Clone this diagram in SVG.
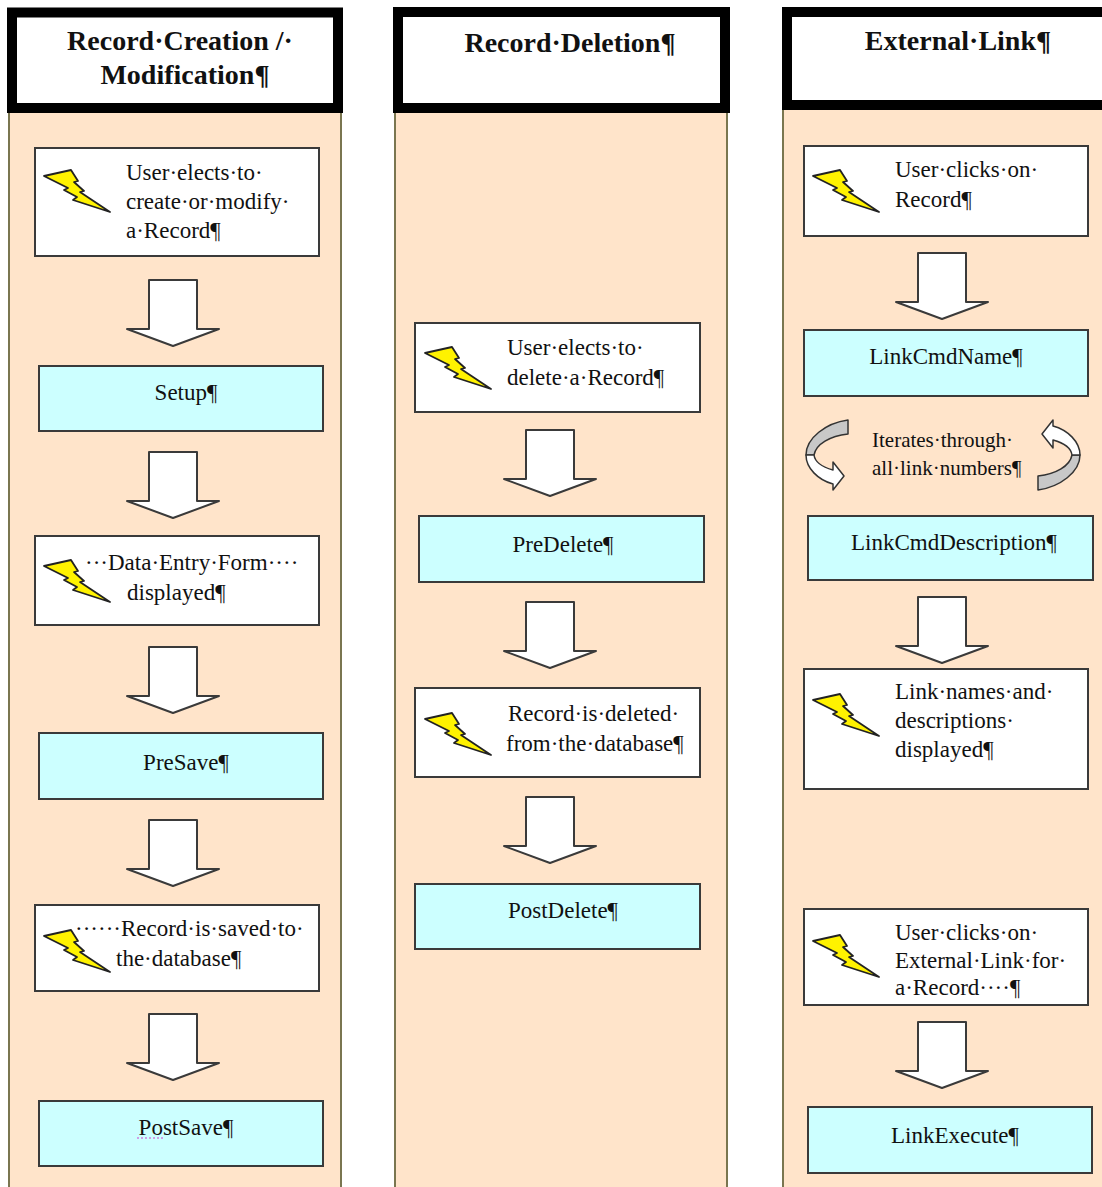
<svg xmlns="http://www.w3.org/2000/svg" xmlns:xlink="http://www.w3.org/1999/xlink" width="1102" height="1187" viewBox="0 0 1102 1187">
<style>
.col{fill:#FFE4CA;stroke:#7A7650;stroke-width:2}
.hdr{fill:#FFFFFF;stroke:#000000;stroke-width:10}
.box{fill:#FFFFFF;stroke:#3A3A3A;stroke-width:2}
.cyan{fill:#CCFFFF;stroke:#3A3A3A;stroke-width:2}
.ht{font-family:"Liberation Serif","Times New Roman",serif;font-size:28px;font-weight:bold;fill:#111;text-anchor:middle}
.t{font-family:"Liberation Serif","Times New Roman",serif;font-size:23px;fill:#111}
.c{text-anchor:middle}
.it{font-family:"Liberation Serif","Times New Roman",serif;font-size:21px;fill:#111}
.arr{fill:#FFFFFF;stroke:#3A3A3A;stroke-width:2;stroke-linejoin:round}
.bolt{fill:#FFF200;stroke:#222;stroke-width:1.8;stroke-linejoin:round}
.curg{fill:#C8C8C8;stroke:#333;stroke-width:1.5;stroke-linejoin:round}
.curw{fill:#FFFFFF;stroke:#333;stroke-width:1.5;stroke-linejoin:round}
</style>
<defs>
<path id="blk" class="arr" d="M-24,0 L24,0 L24,49 L46,49 L0,66 L-46,49 L-24,49 Z"/>
<polygon id="bolt" class="bolt" points="4,16 31,10 38,21 34,22 44,31 40,32 70,52 33,40 37,37 24,30 28,28"/>
<g id="curl">
<path class="curg" d="M848,420 L848,434 C830,436 816,444 814,455 L806,455 C806,438 826,423 848,420 Z"/>
<path class="curw" d="M806,455 C806,468 818,480 833,484 L833,490 L844,476 L833,462 L833,470 C822,467 815,462 814,455 Z"/>
</g>
</defs>
<rect width="1102" height="1187" fill="#FFFFFF"/>

<g id="column1">
<rect class="col" x="9" y="108" width="332" height="1090"/>
<rect class="hdr" x="12" y="12.5" width="326" height="95.5"/>
<text class="ht" x="180" y="50">Record·Creation /·</text>
<text class="ht" x="185" y="84">Modification¶</text>
</g>
<g id="column2">
<rect class="col" x="395" y="108" width="332" height="1090"/>
<rect class="hdr" x="398" y="12" width="327" height="96"/>
<text class="ht" x="570" y="52">Record·Deletion¶</text>
</g>
<g id="column3">
<rect class="col" x="783" y="106" width="340" height="1092"/>
<rect class="hdr" x="787" y="12" width="330" height="93"/>
<text class="ht" x="958" y="50">External·Link¶</text>
</g>

<g id="connectors">
<use xlink:href="#blk" x="173" y="280"/>
<use xlink:href="#blk" x="173" y="452"/>
<use xlink:href="#blk" x="173" y="647"/>
<use xlink:href="#blk" x="173" y="820"/>
<use xlink:href="#blk" x="173" y="1014"/>
<use xlink:href="#blk" x="550" y="430"/>
<use xlink:href="#blk" x="550" y="602"/>
<use xlink:href="#blk" x="550" y="797"/>
<use xlink:href="#blk" x="942" y="253"/>
<use xlink:href="#blk" x="942" y="597"/>
<use xlink:href="#blk" x="942" y="1022"/>
</g>

<g id="n-create">
<rect class="box" x="35" y="148" width="284" height="108"/>
<use xlink:href="#bolt" x="40" y="160"/>
<text class="t" x="126" y="180">User·elects·to·</text>
<text class="t" x="126" y="209">create·or·modify·</text>
<text class="t" x="126" y="238">a·Record¶</text>
</g>
<g id="n-setup">
<rect class="cyan" x="39" y="366" width="284" height="65"/>
<text class="t c" x="186" y="400">Setup¶</text>
</g>
<g id="n-form">
<rect class="box" x="35" y="536" width="284" height="89"/>
<use xlink:href="#bolt" x="40" y="550"/>
<text class="t" x="85" y="570">···Data·Entry·Form····</text>
<text class="t" x="127" y="600">displayed¶</text>
</g>
<g id="n-presave">
<rect class="cyan" x="39" y="733" width="284" height="66"/>
<text class="t c" x="186" y="770">PreSave¶</text>
</g>
<g id="n-saved">
<rect class="box" x="35" y="905" width="284" height="86"/>
<use xlink:href="#bolt" x="40" y="920"/>
<text class="t" x="75" y="936">······Record·is·saved·to·</text>
<text class="t" x="116" y="966">the·database¶</text>
</g>
<g id="n-postsave">
<rect class="cyan" x="39" y="1101" width="284" height="65"/>
<text class="t c" x="186" y="1135">PostSave¶</text>
<line x1="137" y1="1138" x2="164" y2="1138" stroke="#D040D0" stroke-width="1.2" stroke-dasharray="2,2"/>
</g>

<g id="n-delete">
<rect class="box" x="415" y="323" width="285" height="89"/>
<use xlink:href="#bolt" x="421" y="337"/>
<text class="t" x="507" y="355">User·elects·to·</text>
<text class="t" x="507" y="385">delete·a·Record¶</text>
</g>
<g id="n-predelete">
<rect class="cyan" x="419" y="516" width="285" height="66"/>
<text class="t c" x="563" y="552">PreDelete¶</text>
</g>
<g id="n-deleted">
<rect class="box" x="415" y="688" width="285" height="89"/>
<use xlink:href="#bolt" x="421" y="703"/>
<text class="t" x="508" y="721">Record·is·deleted·</text>
<text class="t" x="506" y="751">from·the·database¶</text>
</g>
<g id="n-postdelete">
<rect class="cyan" x="415" y="884" width="285" height="65"/>
<text class="t c" x="563" y="918">PostDelete¶</text>
</g>

<g id="n-click">
<rect class="box" x="804" y="146" width="284" height="90"/>
<use xlink:href="#bolt" x="809" y="160"/>
<text class="t" x="895" y="177">User·clicks·on·</text>
<text class="t" x="895" y="207">Record¶</text>
</g>
<g id="n-linkcmdname">
<rect class="cyan" x="804" y="330" width="284" height="66"/>
<text class="t c" x="946" y="364">LinkCmdName¶</text>
</g>
<g id="n-iterate">
<use xlink:href="#curl"/>
<use xlink:href="#curl" transform="translate(1886,910) scale(-1,-1)"/>
<text class="it" x="872" y="447">Iterates·through·</text>
<text class="it" x="872" y="475">all·link·numbers¶</text>
</g>
<g id="n-linkcmddesc">
<rect class="cyan" x="808" y="516" width="285" height="64"/>
<text class="t c" x="954" y="550">LinkCmdDescription¶</text>
</g>
<g id="n-displayed">
<rect class="box" x="804" y="669" width="284" height="120"/>
<use xlink:href="#bolt" x="809" y="684"/>
<text class="t" x="895" y="699">Link·names·and·</text>
<text class="t" x="895" y="728">descriptions·</text>
<text class="t" x="895" y="757">displayed¶</text>
</g>
<g id="n-extlink">
<rect class="box" x="804" y="909" width="284" height="96"/>
<use xlink:href="#bolt" x="809" y="925"/>
<text class="t" x="895" y="940">User·clicks·on·</text>
<text class="t" x="895" y="968">External·Link·for·</text>
<text class="t" x="895" y="995">a·Record····¶</text>
</g>
<g id="n-linkexecute">
<rect class="cyan" x="808" y="1107" width="284" height="66"/>
<text class="t c" x="955" y="1143">LinkExecute¶</text>
</g>
</svg>
